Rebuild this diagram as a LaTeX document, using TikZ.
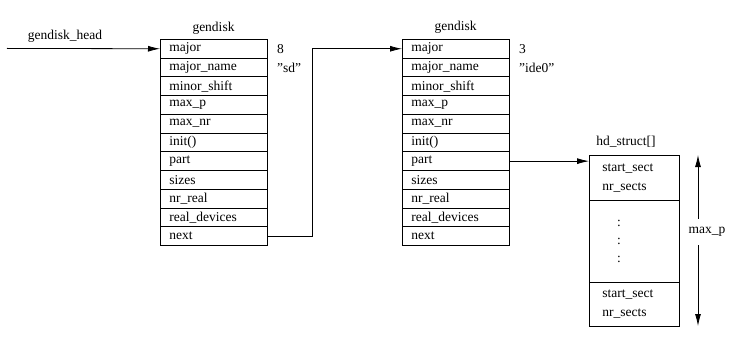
\documentclass[tikz,border=0pt]{standalone}
\usepackage{fontspec}
\setmainfont{Liberation Serif}
\usetikzlibrary{arrows.meta}
\newcommand{\dq}{\symbol{34}}
\begin{document}
\begin{tikzpicture}[x=1pt,y=-1pt,
  font=\fontsize{13.5}{19}\selectfont,
  line width=0.8pt,
  cell/.style={draw, anchor=north west, minimum height=18.73pt, text width=89pt,
    inner xsep=9pt, inner ysep=0pt, align=left},
  hdcell/.style={draw, anchor=north west, text width=64pt, inner xsep=13pt,
    inner ysep=0pt, align=left},
  lbl/.style={inner sep=1pt},
  arr/.style={-{Latex[length=12pt,width=6pt]}},
  darr/.style={{Latex[length=12pt,width=6pt]}-{Latex[length=12pt,width=6pt]}}]
\useasboundingbox (0,0) rectangle (736,350);
% first gendisk
\foreach [count=\i from 0] \t in {major,major\_name,minor\_shift,max\_p,max\_nr,init(),part,sizes,nr\_real,real\_devices,next}
  \node[cell] (a\i) at (160,{39+\i*18.73}) {\t};
\foreach [count=\i from 0] \t in {major,major\_name,minor\_shift,max\_p,max\_nr,init(),part,sizes,nr\_real,real\_devices,next}
  \node[cell] (b\i) at (402,{39+\i*18.73}) {\t};
\node[lbl] (ta) at (213.5,28) {gendisk};
\node[lbl] (tb) at (455.5,27) {gendisk};
\node[lbl] (headlbl) at (65,36) {gendisk\_head};
\node[lbl, anchor=west] (va0) at ([xshift=8pt]a0.east) {8};
\node[lbl, anchor=west] (va1) at ([xshift=8pt]a1.east) {\dq sd\dq};
\node[lbl, anchor=west] (vb0) at ([xshift=8pt]b0.east) {3};
\node[lbl, anchor=west] (vb1) at ([xshift=8pt]b1.east) {\dq ide0\dq};
% hd_struct
\node[hdcell, minimum height=45pt] (h1) at (589,155) {start\_sect\\nr\_sects};
\node[draw, anchor=north west, minimum width=90pt, minimum height=82pt, inner sep=0pt] (h2) at (589,200) {};
\node[hdcell, minimum height=44pt] (h3) at (589,282) {start\_sect\\nr\_sects};
\node[lbl] (ht) at (626,142) {hd\_struct[]};
\node[lbl] (d1) at (619,223) {:};
\node[lbl] (d2) at (619,241) {:};
\node[lbl] (d3) at (619,259) {:};
% connectors
\coordinate (hstart) at (7,48.4);
\draw[arr] (hstart) -- (a0.west);
\coordinate (bend) at (312,0);
\draw[arr] (a10.east) -| (bend |- b0.west) -- (b0.west);
\draw[arr] (b6.east) -- (b6.east -| h1.west);
\coordinate (mtop) at (698,155);
\coordinate (mbot) at (698,326);
\draw[darr] (mtop) -- (mbot);
\node[fill=white, inner xsep=2pt, inner ysep=8pt] (maxp) at (707,232) {max\_p};
\end{tikzpicture}
\end{document}
